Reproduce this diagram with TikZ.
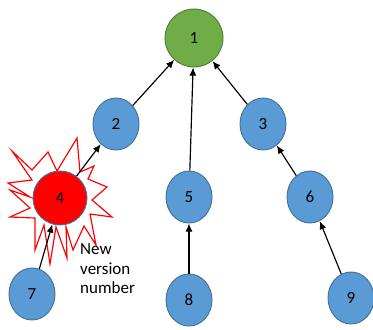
\documentclass[tikz,border=0pt]{standalone}
\usepackage{fontspec}
\setmainfont{Carlito}
\usetikzlibrary{shapes.geometric, arrows.meta}

\definecolor{vblue}{HTML}{5B9BD5}
\definecolor{vblueline}{HTML}{41719C}
\definecolor{vgreen}{HTML}{70AD47}
\definecolor{vgreenline}{HTML}{507E32}

\begin{document}
\begin{tikzpicture}[
    x=0.03cm, y=-0.03cm,
    every node/.style={font=\fontsize{14.5}{17}\selectfont},
    vnode/.style={ellipse, draw=vblueline, fill=vblue, line width=0.8pt,
                  minimum width=1.38cm, minimum height=1.56cm, inner sep=0pt},
    rootnode/.style={circle, draw=vgreenline, fill=vgreen, line width=0.8pt,
                     minimum size=1.74cm, inner sep=0pt},
    hotnode/.style={circle, draw=vblueline, fill=red, line width=0.8pt,
                    minimum size=1.62cm, inner sep=0pt},
    arr/.style={-{Latex[length=7pt, width=6pt]}, line width=1pt, black},
]
    \useasboundingbox (0,0) rectangle (373,329);
    % burst behind the changed node
    \draw[red, line width=1pt, fill=white]
        (12,151) -- (32,170) -- (48,152) -- (57,171) -- (77,138) -- (80,172)
        -- (94,166) -- (88,179) -- (107,187) -- (92,200) -- (112,217)
        -- (90,214) -- (96,245) -- (84,226) -- (73,250) -- (66,227)
        -- (67,258) -- (56,227) -- (50,264) -- (44,225) -- (35,250)
        -- (35,218) -- (10,217) -- (30,208) -- (10,190) -- (30,197)
        -- (8,183) -- (32,180) -- cycle;
    % tree
    \node[rootnode] (n1) at (194,38) {1};
    \node[vnode] (n2) at (116,124) {2};
    \node[vnode] (n3) at (263,124) {3};
    \node[hotnode] (n4) at (60,198) {4};
    \node[vnode] (n5) at (189,197) {5};
    \node[vnode] (n6) at (310,197) {6};
    \node[vnode] (n7) at (32,294) {7};
    \node[vnode] (n8) at (189,300) {8};
    \node[vnode] (n9) at (351,298) {9};
    \draw[arr] (n2) -- (n1);
    \draw[arr] (n5) -- (n1);
    \draw[arr] (n3) -- (n1);
    \draw[arr] (n4) -- (n2);
    \draw[arr] (n6) -- (n3);
    \draw[arr] (n7) -- (n4);
    \draw[arr] (n8) -- (n5);
    \draw[arr] (n9) -- (n6);
    \node[align=left, anchor=north west, inner sep=0pt] (note) at (80,243)
        {New\\version\\number};
\end{tikzpicture}
\end{document}
